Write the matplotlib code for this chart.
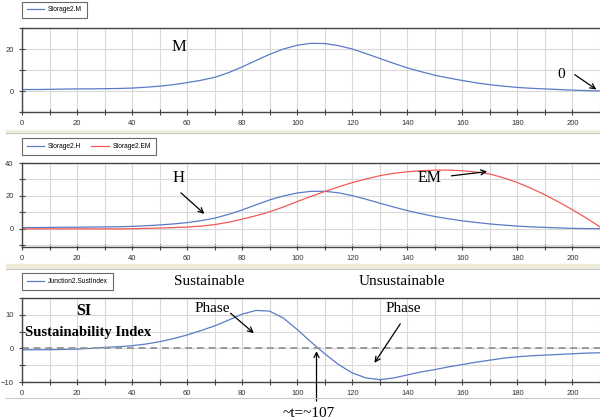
import numpy as np
import matplotlib.pyplot as plt
from matplotlib.patches import Rectangle

# time axis and series
t = [0, 5, 10, 15, 20, 25, 30, 35, 40, 45, 50, 55, 60, 65, 70, 75, 80, 85, 90, 95, 100,
     105, 110, 115, 120, 125, 130, 135, 140, 145, 150, 155, 160, 165, 170, 175, 180,
     185, 190, 195, 200, 205, 210]
storage_m = [0.7, 0.7, 0.8, 0.9, 1.0, 1.0, 1.1, 1.2, 1.4, 1.8, 2.3, 3.0, 4.0, 5.1, 6.5,
             8.7, 11.5, 14.5, 17.5, 20.0, 21.8, 22.7, 22.6, 21.6, 20.0, 17.8, 15.5, 13.2,
             11.0, 9.2, 7.5, 6.2, 5.0, 3.9, 3.0, 2.3, 1.7, 1.3, 1.0, 0.7, 0.4, 0.2, 0.0]
storage_h = [0.8, 0.8, 0.9, 1.0, 1.0, 1.1, 1.2, 1.3, 1.5, 1.9, 2.4, 3.0, 3.8, 5.0, 6.5,
             8.8, 11.5, 14.6, 17.6, 20.0, 21.8, 22.8, 22.8, 21.9, 20.2, 18.0, 15.6, 13.3,
             11.1, 9.2, 7.5, 6.1, 4.9, 3.9, 3.0, 2.3, 1.7, 1.2, 0.9, 0.6, 0.3, 0.2, 0.1]
storage_em = [0.0, 0.0, 0.0, 0.0, 0.0, 0.0, 0.0, 0.0, 0.1, 0.3, 0.5, 0.8, 1.1, 1.7, 2.6,
              4.0, 5.9, 8.0, 10.4, 13.3, 16.6, 19.7, 22.7, 25.5, 28.1, 30.3, 32.3, 33.7,
              34.7, 35.3, 35.7, 35.7, 35.3, 34.5, 33.3, 31.0, 28.1, 24.6, 20.7, 16.3,
              11.6, 6.6, 1.2]
sust_index = [-0.4, -0.4, -0.4, -0.3, -0.2, 0.0, 0.3, 0.5, 0.8, 1.3, 2.0, 2.9, 4.0, 5.3,
              6.7, 8.4, 10.2, 11.3, 11.1, 9.0, 5.6, 1.9, -1.6, -4.8, -7.3, -8.8, -9.3,
              -8.8, -7.9, -7.0, -6.3, -5.5, -4.8, -4.1, -3.5, -2.9, -2.5, -2.2, -2.0,
              -1.8, -1.6, -1.4, -1.3]

BLUE = '#5a7bc8'
RED = '#f25a5a'
TICK_FONT = ['Liberation Sans Narrow', 'Liberation Sans', 'DejaVu Sans']
SERIF = 'Liberation Serif'

W, H = 600, 419
fig = plt.figure(figsize=(6, 4.19), dpi=100)


def add_panel(top_px, bottom_px):
    return fig.add_axes([22 / W, 1 - bottom_px / H, 578 / W, (bottom_px - top_px) / H])


def style(ax, ylim, ymajor, yminor):
    ax.set_xlim(0, 210)
    ax.set_ylim(*ylim)
    ax.set_xticks(np.arange(0, 201, 20))
    ax.set_xticks(np.arange(10, 211, 10), minor=True)
    ax.set_yticks(ymajor)
    ax.set_yticks(yminor, minor=True)
    ax.grid(True, which='both', color='#d9d9d9', lw=0.8)
    ax.set_axisbelow(True)
    for s in ('top', 'bottom', 'left'):
        ax.spines[s].set_color('#444444')
        ax.spines[s].set_linewidth(1.0)
    ax.spines['right'].set_visible(False)
    ax.tick_params(which='both', direction='inout', length=4, width=0.8,
                   color='#444444', labelsize=5.5, labelcolor='#333333', pad=4)
    for lab in ax.get_xticklabels() + ax.get_yticklabels():
        lab.set_family(TICK_FONT)


def legend(ax, height_frac):
    leg = ax.legend(loc='lower left', bbox_to_anchor=(0, height_frac), ncol=2,
                    frameon=True, fancybox=False, borderpad=0.7, borderaxespad=0,
                    handlelength=2.6, handletextpad=0.6, columnspacing=1.5,
                    prop={'family': TICK_FONT, 'size': 4.8})
    leg.get_frame().set_edgecolor('#444444')
    leg.get_frame().set_linewidth(0.8)


arrow = dict(arrowstyle='->', color='black', lw=0.9, mutation_scale=9)

# panel 1: Storage2.M
ax1 = add_panel(28, 112)
ax1.plot(t, storage_m, color=BLUE, lw=0.9, label='Storage2.M')
style(ax1, (-10, 30), [0, 20], [-10, 10, 30])
legend(ax1, 1.12)
ax1.text(57, 21, 'M', family=SERIF, fontsize=12, ha='center', va='center')
ax1.text(196, 8, '0', family=SERIF, fontsize=11, ha='center', va='center')
ax1.annotate('', xy=(209.5, 0), xytext=(200, 8.5), arrowprops=arrow, annotation_clip=False)

# panel 2: Storage2.H and Storage2.EM
ax2 = add_panel(163, 247)
ax2.plot(t, storage_h, color=BLUE, lw=0.9, label='Storage2.H')
ax2.plot(t, storage_em, color=RED, lw=0.9, label='Storage2.EM')
style(ax2, (-11, 40), [0, 20, 40], [-10, 10, 30])
legend(ax2, 1.1)
ax2.text(57, 31, 'H', family=SERIF, fontsize=12, ha='center', va='center')
ax2.annotate('', xy=(67, 8), xytext=(57, 23), arrowprops=arrow)
ax2.text(148, 31, 'EM', family=SERIF, fontsize=11.5, ha='center', va='center')
ax2.annotate('', xy=(170, 35), xytext=(155, 32), arrowprops=arrow)

# panel 3: Junction2.SustIndex
ax3 = add_panel(298, 382)
ax3.plot(t, sust_index, color=BLUE, lw=0.9, label='Junction2.SustIndex')
ax3.axhline(0.2, color='#9a9a9a', lw=1.4, ls=(0, (3.5, 2.5)))
style(ax3, (-10, 15), [-10, 0, 10], [-5, 5, 15])
legend(ax3, 1.1)
ax3.text(68, 20, 'Sustainable', family=SERIF, fontsize=11, ha='center', va='center')
ax3.text(138, 20, 'Unsustainable', family=SERIF, fontsize=11, ha='center', va='center')
ax3.text(69, 12, 'Phase', family=SERIF, fontsize=11, ha='center', va='center')
ax3.annotate('', xy=(85, 4), xytext=(75, 11), arrowprops=arrow)
ax3.text(138.5, 12, 'Phase', family=SERIF, fontsize=11, ha='center', va='center')
ax3.annotate('', xy=(127.5, -5), xytext=(138, 8), arrowprops=arrow)
ax3.text(22.5, 11, 'SI', family=SERIF, fontsize=11.5, weight='bold', ha='center', va='center')
ax3.text(24, 4.7, 'Sustainability Index', family=SERIF, fontsize=10.5, weight='bold',
         ha='center', va='center')
ax3.annotate('', xy=(107, 0), xytext=(107, -16.5), arrowprops=arrow, annotation_clip=False)
ax3.text(104, -19.3, '~t=~107', family=SERIF, fontsize=11, ha='center', va='center')

# separator bands between the panels
for y0, h in ((130, 3), (264, 4)):
    fig.patches.append(Rectangle((6 / W, 1 - (y0 + h) / H), 1, h / H,
                                 transform=fig.transFigure, color='#efecdc', zorder=0))
for y0 in (133.5, 268.5, 398):
    fig.add_artist(plt.Line2D([6 / W, 1], [1 - y0 / H] * 2, color='#c8c8c8', lw=0.8))

fig.savefig('out.png', dpi=100)
